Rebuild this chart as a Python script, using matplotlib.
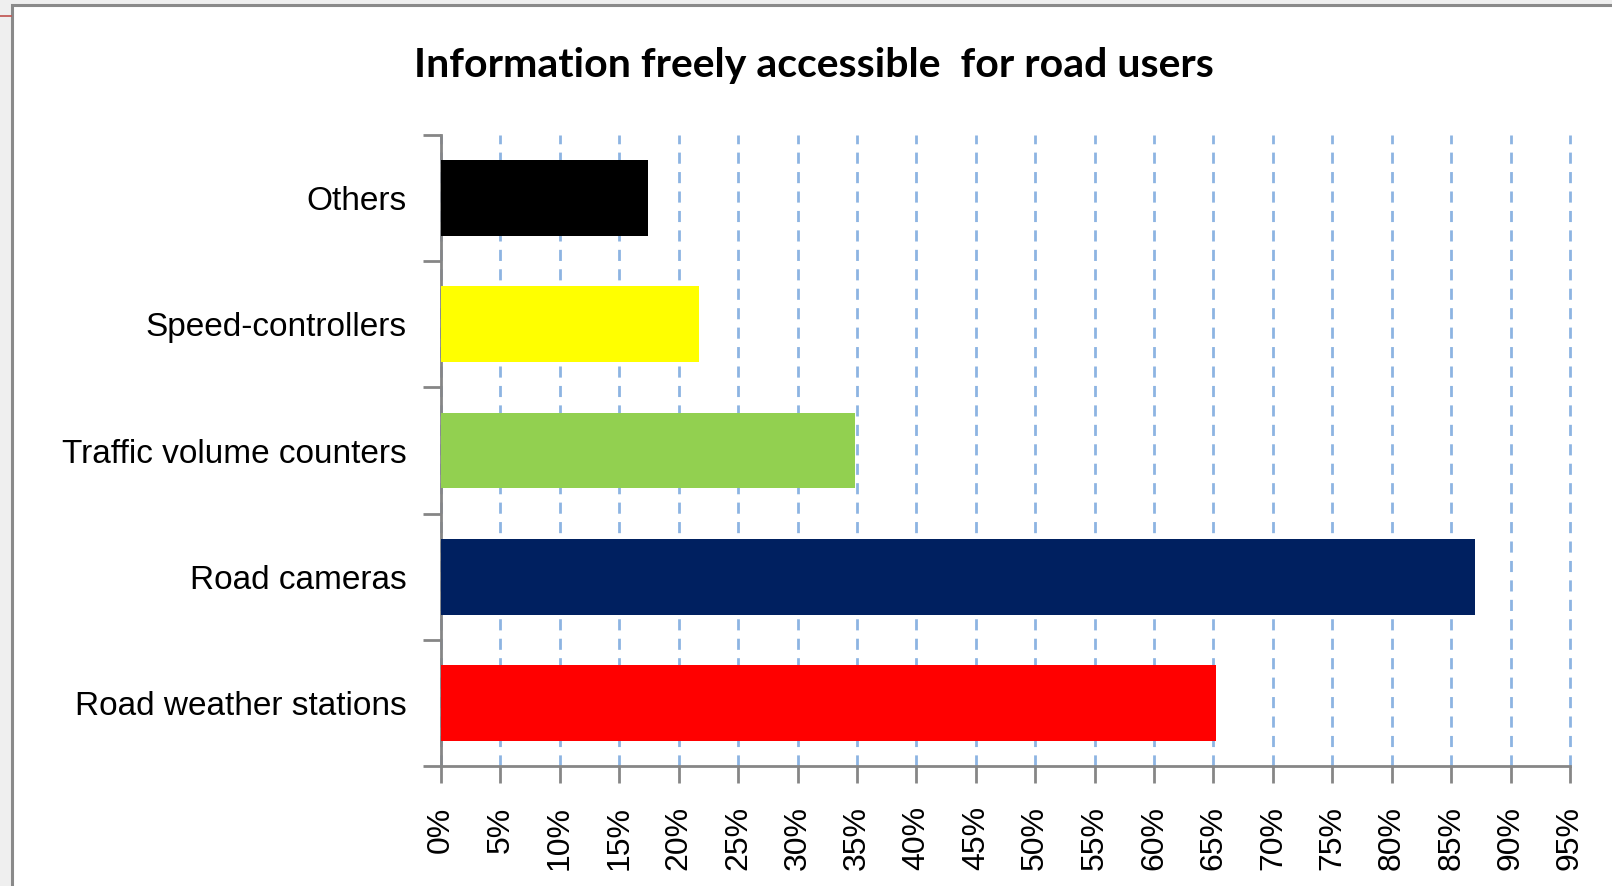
import matplotlib
matplotlib.use('Agg')
from matplotlib import pyplot as plt
from matplotlib.patches import Rectangle
from matplotlib.lines import Line2D
import numpy as np

categories = ['Road weather stations', 'Road cameras', 'Traffic volume counters',
              'Speed-controllers', 'Others']
values = [65.2, 87.0, 34.8, 21.7, 17.4]
colors = ['#FF0000', '#002060', '#92D050', '#FFFF00', '#000000']
xticks = list(range(0, 100, 5))
xtick_labels = [f'{t}%' for t in xticks]

W, H = 1612, 886
fig = plt.figure(figsize=(W / 100, H / 100), dpi=100)
fig.patch.set_facecolor('#EFEFEF')

# white chart area with gray frame, like the spreadsheet window
fig.patches.append(Rectangle((12 / W, -0.05), 1.1, 1 - 5 / H + 0.05, transform=fig.transFigure,
                             facecolor='white', edgecolor='#8A8A8A', linewidth=2.2, zorder=-5))
fig.lines.append(Line2D([0, 11 / W], [1 - 16 / H, 1 - 16 / H], transform=fig.transFigure,
                       color='#C0504D', linewidth=1.2, zorder=-4))

ax = fig.add_axes([441 / W, 1 - 766 / H, (1570 - 441) / W, (766 - 135) / H])
ax.set_facecolor('none')

y = np.arange(len(categories))
ax.barh(y, values, height=0.6, color=colors, zorder=3)

ax.set_xlim(0, 95)
ax.set_ylim(-0.5, len(categories) - 0.5)

ax.set_xticks(xticks)
ax.set_xticklabels(xtick_labels, rotation=90, fontsize=23, family='Liberation Sans')
ax.set_yticks(y)
ax.set_yticklabels(categories, fontsize=24, family='Liberation Sans')
ax.set_yticks(np.arange(-0.5, len(categories)), minor=True)

ax.tick_params(axis='y', which='major', length=0, pad=25)
ax.tick_params(axis='y', which='minor', length=13, width=2, color='#868686', direction='out')
ax.tick_params(axis='x', which='major', length=12, width=2, color='#868686', direction='out', pad=17)

for side in ['top', 'right']:
    ax.spines[side].set_visible(False)
for side in ['left', 'bottom']:
    ax.spines[side].set_color('#868686')
    ax.spines[side].set_linewidth(2)

ax.grid(axis='x', color='#8DB4E2', linestyle=(0, (4, 3)), linewidth=2, zorder=1)
ax.set_axisbelow(True)
for gl in ax.get_xgridlines():
    gl.set_clip_on(False)

fig.text(814 / W, 1 - 65 / H, 'Information freely accessible  for road users',
         ha='center', va='center', fontsize=29.5, fontweight='bold', family='Lato')

fig.savefig('out.png', dpi=100, facecolor=fig.get_facecolor())
